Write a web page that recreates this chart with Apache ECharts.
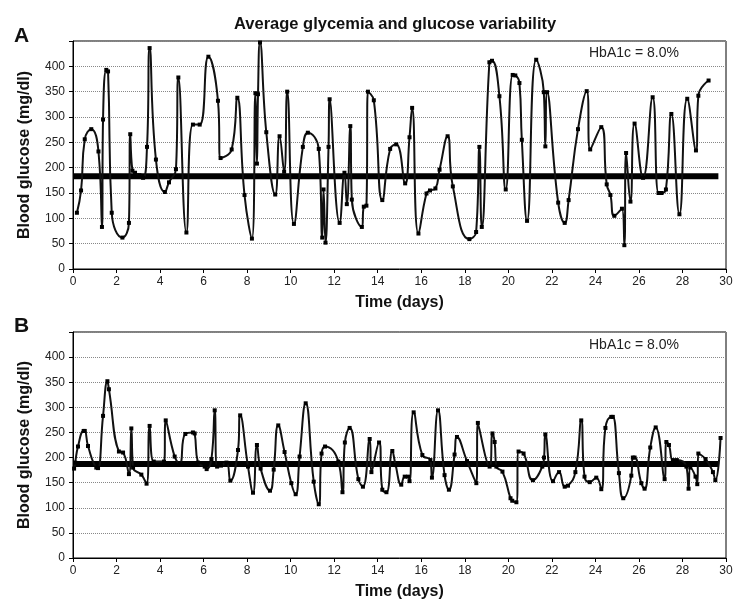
<!DOCTYPE html>
<html>
<head>
<meta charset="utf-8">
<script src="https://cdn.jsdelivr.net/npm/echarts@6/dist/echarts.min.js"></script>
<style>
html,body{margin:0;padding:0;background:#fff;}
#chart{width:748px;height:612px;}
</style>
</head>
<body>
<div id="chart"></div>
<script>
// ---- Data ----
const daysA = [0.18,0.37,0.54,0.84,1.17,1.33,1.38,1.53,1.61,1.78,2.27,2.57,2.63,2.73,2.85,3.05,3.22,3.40,3.52,3.81,4.22,4.41,4.73,4.84,5.21,5.51,5.82,6.22,6.66,6.78,7.29,7.55,7.88,8.22,8.38,8.45,8.50,8.59,8.88,9.29,9.49,9.70,9.84,10.15,10.56,10.79,11.29,11.45,11.51,11.60,11.74,11.79,12.25,12.47,12.58,12.74,12.81,13.27,13.36,13.48,13.55,13.82,14.21,14.57,14.85,15.26,15.46,15.58,15.87,16.24,16.40,16.65,16.84,17.21,17.45,18.21,18.52,18.67,18.78,19.13,19.25,19.59,19.88,20.20,20.32,20.51,20.62,20.86,21.28,21.63,21.70,21.78,22.29,22.59,22.77,23.20,23.60,23.76,24.27,24.52,24.69,24.87,25.22,25.33,25.41,25.61,25.80,26.19,26.63,26.90,27.04,27.24,27.49,27.86,28.22,28.62,28.73,29.20];
const glucoseA = [111,155,256,276,232,83,295,393,390,111,62,91,266,194,190,185,180,241,436,216,152,171,197,378,72,285,285,419,332,219,236,338,146,60,347,208,345,447,270,147,262,192,350,89,241,269,237,62,157,52,241,335,91,190,128,282,137,83,123,125,350,333,136,237,246,169,260,318,70,149,155,159,196,262,163,59,73,241,83,408,411,341,157,383,382,367,255,95,413,349,242,349,131,91,136,276,351,236,280,167,146,105,119,47,229,133,287,180,339,150,150,157,306,108,336,234,342,372];
const daysB = [0.05,0.10,0.23,0.49,0.54,0.69,1.07,1.15,1.38,1.58,1.65,2.11,2.30,2.57,2.68,2.76,3.14,3.38,3.52,3.71,4.18,4.26,4.67,4.90,5.16,5.51,5.59,5.74,6.05,6.14,6.36,6.51,6.62,6.80,7.05,7.23,7.58,7.68,8.04,8.27,8.45,8.62,9.05,9.22,9.43,9.72,10.03,10.23,10.41,10.69,11.06,11.29,11.42,11.58,12.19,12.38,12.49,12.71,13.11,13.32,13.63,13.71,14.06,14.21,14.40,14.67,14.82,15.08,15.24,15.39,15.46,15.65,16.05,16.42,16.49,16.77,17.07,17.27,17.53,17.64,18.10,18.53,18.60,19.14,19.27,19.37,19.45,19.73,20.10,20.18,20.37,20.47,20.70,21.13,21.56,21.64,21.70,22.05,22.33,22.59,22.74,23.08,23.35,23.50,23.74,24.04,24.27,24.46,24.73,24.80,25.08,25.28,25.65,25.72,25.80,26.11,26.26,26.52,26.77,27.18,27.26,27.38,27.56,27.74,28.18,28.28,28.36,28.60,28.68,28.73,29.06,29.40,29.51,29.75];
const glucoseB = [178,190,222,253,253,223,180,179,283,352,336,212,210,167,258,180,166,148,263,192,192,274,202,188,247,250,248,190,182,177,197,294,182,184,190,154,215,284,182,130,225,178,134,176,264,211,149,127,202,308,152,107,208,222,192,131,230,259,157,142,237,171,230,136,131,213,185,146,162,162,153,290,205,195,160,294,165,136,206,241,193,149,269,182,248,231,182,172,119,114,111,212,208,155,182,200,246,153,171,142,144,171,274,162,151,160,137,259,281,281,169,119,164,200,200,149,138,220,260,157,231,225,195,195,182,138,180,162,147,208,197,171,155,239];
const meanA = 183;
const meanB = 187;
const meanSpan = [0, 29.65];
const xTicks = {min: 0, max: 30, step: 2};
const yTicks = {min: 0, max: 450, step: 50};
const panelLabels = ['A', 'B'];
const hbText = 'HbA1c = 8.0%';
const titleText = 'Average glycemia and glucose variability';
const yName = 'Blood glucose (mg/dl)';
const xName = 'Time (days)';

// ---- Build ----
const FONT = '"Liberation Sans", Arial, Helvetica, sans-serif';
const pairs = (xs, ys) => xs.map((x, i) => [x, ys[i]]);

function xAxisCfg(gi) {
  return {
    type: 'value', gridIndex: gi, min: xTicks.min, max: xTicks.max, interval: xTicks.step,
    name: xName, nameLocation: 'middle', nameGap: 26,
    nameTextStyle: {fontFamily: FONT, fontSize: 16, fontWeight: 'bold', color: '#111'},
    axisLine: {show: true, onZero: false, lineStyle: {color: '#000', width: 1}},
    axisTick: {show: true, length: 4, lineStyle: {color: '#000'}},
    axisLabel: {fontFamily: FONT, fontSize: 12, color: '#222', margin: 7},
    splitLine: {show: false}
  };
}
function yAxisCfg(gi) {
  return {
    type: 'value', gridIndex: gi, min: yTicks.min, max: yTicks.max, interval: yTicks.step,
    name: yName, nameLocation: 'middle', nameGap: 40, nameRotate: 90,
    nameTextStyle: {fontFamily: FONT, fontSize: 16, fontWeight: 'bold', color: '#111'},
    axisLine: {show: true, lineStyle: {color: '#000', width: 1}},
    axisTick: {show: true, length: 4, lineStyle: {color: '#000'}},
    axisLabel: {fontFamily: FONT, fontSize: 12, color: '#222', margin: 8,
      formatter: v => (v === yTicks.max ? '' : String(v))},
    splitLine: {show: true, lineStyle: {type: 'dotted', color: '#888', width: 1}}
  };
}
function glucoseSeries(gi, xs, ys) {
  return {
    type: 'line', xAxisIndex: gi, yAxisIndex: gi, data: pairs(xs, ys),
    smooth: 0.5, symbol: 'rect', symbolSize: 4, showSymbol: true,
    itemStyle: {color: '#000'}, lineStyle: {color: '#111', width: 2},
    animation: false, z: 3
  };
}
function meanSeries(gi, m) {
  return {
    type: 'line', xAxisIndex: gi, yAxisIndex: gi,
    data: meanSpan.map(x => [x, m]), symbol: 'none',
    lineStyle: {color: '#000', width: 6}, animation: false, z: 2
  };
}

const chart = echarts.init(document.getElementById('chart'), null, {renderer: 'canvas'});
chart.setOption({
  backgroundColor: '#fff',
  animation: false,
  title: {text: titleText, left: 229, top: 11,
    textStyle: {fontFamily: FONT, fontSize: 16.5, fontWeight: 'bold', color: '#111'}},
  grid: [
    {left: 73, right: 22, top: 41, height: 228, show: true, borderColor: '#000', borderWidth: 1},
    {left: 73, right: 22, top: 332, height: 226, show: true, borderColor: '#000', borderWidth: 1}
  ],
  xAxis: [xAxisCfg(0), xAxisCfg(1)],
  yAxis: [yAxisCfg(0), yAxisCfg(1)],
  series: [
    meanSeries(0, meanA), glucoseSeries(0, daysA, glucoseA),
    meanSeries(1, meanB), glucoseSeries(1, daysB, glucoseB)
  ],
  graphic: [
    {type: 'text', left: 14, top: 26, style: {text: panelLabels[0], font: 'bold 21px ' + FONT, fill: '#111'}},
    {type: 'text', left: 14, top: 316, style: {text: panelLabels[1], font: 'bold 21px ' + FONT, fill: '#111'}},
    {type: 'text', left: 589, top: 46, style: {text: hbText, font: '14px ' + FONT, fill: '#222'}},
    {type: 'text', left: 589, top: 338, style: {text: hbText, font: '14px ' + FONT, fill: '#222'}}
  ]
});
</script>
</body>
</html>
